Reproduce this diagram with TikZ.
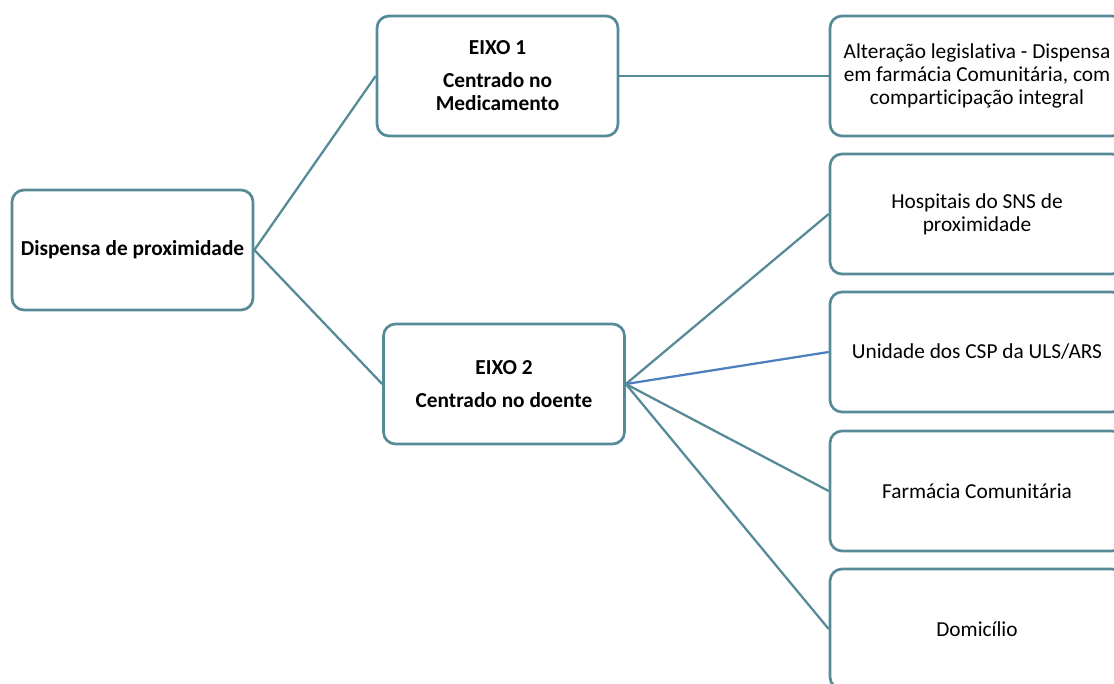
\documentclass[tikz,border=0pt]{standalone}
\usepackage{fontspec}
\setmainfont{Carlito}[Ligatures=NoCommon]
\definecolor{boxline}{RGB}{86,138,151}
\definecolor{blueline}{RGB}{76,128,190}

\begin{document}
\begin{tikzpicture}[x=0.75pt, y=-0.75pt]
    \useasboundingbox (0,0) rectangle (1114,684);
    \clip (0,0) rectangle (1114,684);
    \begin{scope}
        \tikzset{
            eixo box/.style={draw=boxline, line width=2pt, rounded corners=9pt,
                minimum width=180.75pt, minimum height=90pt, align=center,
                font=\fontsize{16}{17.25}\selectfont\bfseries},
            option box/.style={eixo box, minimum width=220.5pt, font=\fontsize{16}{17.25}\selectfont},
            link/.style={draw=boxline, line width=1.7pt}
        }
        % Draw the root and the two axes
        \node [eixo box] (root) at (132.5,250) {Dispensa de proximidade};
        \node [eixo box] (eixo1) at (497.5,76) {EIXO 1\\[7.5pt]Centrado no\\Medicamento};
        \node [eixo box] (eixo2) at (504,384) {EIXO 2\\[7.5pt]Centrado no doente};

        % Draw the options on the right
        \node [option box] (legis) at (977,76) {Altera\c{c}\~ao legislativa - Dispensa\\em farm\'acia Comunit\'aria, com\\comparticipa\c{c}\~ao integral};
        \node [option box] (hosp) at (977,214) {Hospitais do SNS de\\proximidade};
        \node [option box] (csp) at (977,352) {Unidade dos CSP da ULS/ARS};
        \node [option box] (farm) at (977,491) {Farm\'acia Comunit\'aria};
        \node [option box] (domic) at (977,629) {Domic\'ilio};

        % Connect them
        \draw [link] (root.east) -- (eixo1.west);
        \draw [link] (root.east) -- (eixo2.west);
        \draw [link] (eixo1.east) -- (legis.west);
        \draw [link] (eixo2.east) -- (hosp.west);
        \draw [link, draw=blueline] (eixo2.east) -- (csp.west);
        \draw [link] (eixo2.east) -- (farm.west);
        \draw [link] (eixo2.east) -- (domic.west);
    \end{scope}
\end{tikzpicture}
\end{document}
